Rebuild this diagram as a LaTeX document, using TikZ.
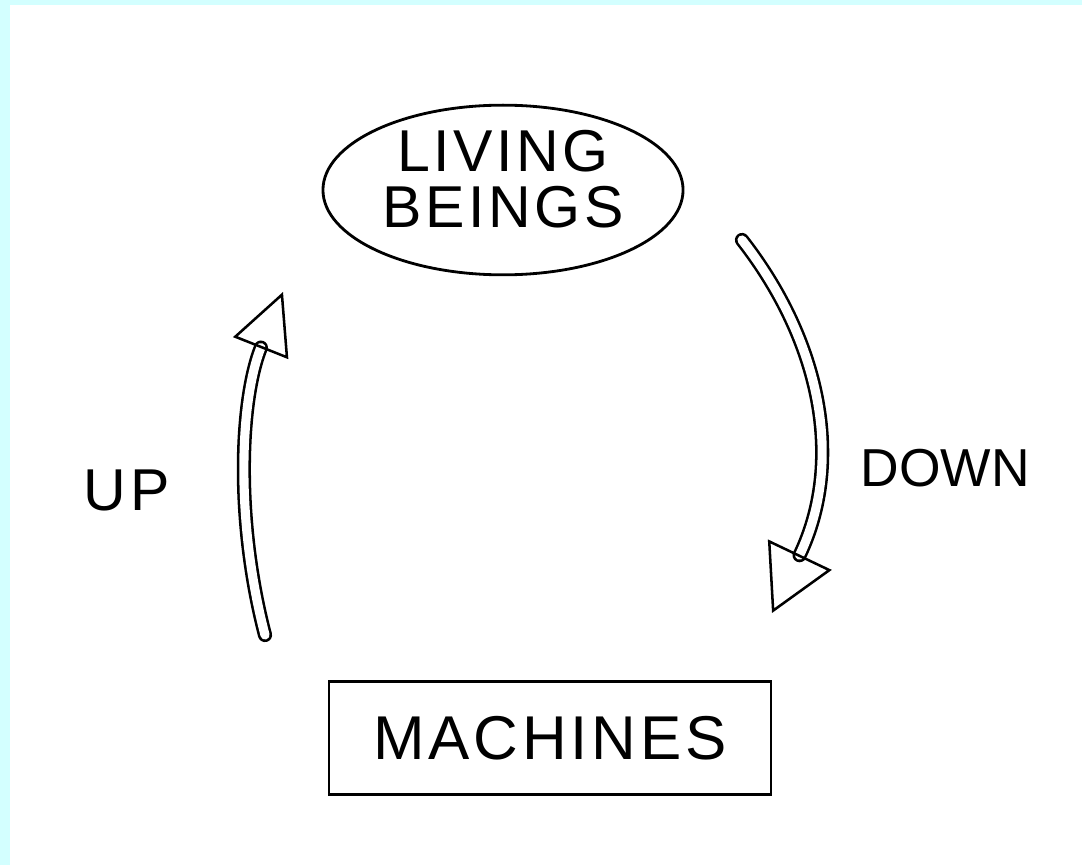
\documentclass[tikz,border=0pt]{standalone}
\usepackage{xcolor}
\usepackage{fontspec}
\setmainfont{Liberation Sans}
\usepackage{tikz}
\usetikzlibrary{positioning, arrows.meta, shapes.geometric}
\definecolor{paleblue}{HTML}{D3FFFF}

\begin{document}
\begin{tikzpicture}[x=0.025cm, y=-0.025cm, line width=2pt,
    hand/.style={font=\fontsize{42}{46}\selectfont\addfontfeature{LetterSpace=6}},
    hollow/.style={double, double distance=6.5pt, line width=1.8pt, line cap=round}]
  \useasboundingbox (0,0) rectangle (1082,865);
  \fill[white] (0,0) rectangle (1082,865);
  \fill[paleblue] (0,0) rectangle (1082,5);
  \fill[paleblue] (0,0) rectangle (10,865);

  \node (beings) [draw, ellipse, minimum width=9cm, minimum height=4.1cm, inner sep=0pt,
        hand, align=center, text depth=16pt] at (503,190) {LIVING\\[-6pt]BEINGS};
  \node (machines) [draw, minimum width=11.05cm, minimum height=2.83cm, inner sep=0pt,
        hand, font=\fontsize{44}{48}\selectfont\addfontfeature{LetterSpace=6}] at (550,738) {MACHINES};
  \node (down) [hand, font=\fontsize{38}{42}\selectfont] at (945,468) {DOWN};
  \node (up) [hand, font=\fontsize{42}{46}\selectfont\addfontfeature{LetterSpace=8}] at (127,490) {UP};

  \coordinate (downfrom) at (742,240);
  \coordinate (downto) at (772,613);
  \coordinate (upfrom) at (265,635);
  \coordinate (upto) at (283,292);

  \draw[hollow, -{Triangle[open, length=46pt, width=50pt]}] (downfrom) .. controls (820,340) and (845,460) .. (downto);
  \draw[hollow, -{Triangle[open, length=43pt, width=42pt]}] (upfrom) .. controls (235,520) and (240,400) .. (upto);
\end{tikzpicture}
\end{document}
